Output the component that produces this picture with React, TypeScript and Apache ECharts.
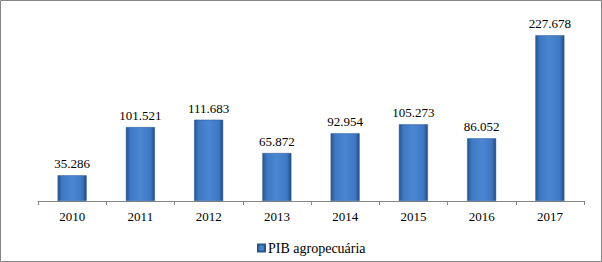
import React, { useEffect, useRef } from "react";
import * as echarts from "echarts";

const categories = ["2010", "2011", "2012", "2013", "2014", "2015", "2016", "2017"];
const values = [35.286, 101.521, 111.683, 65.872, 92.954, 105.273, 86.052, 227.678];
const labels = ["35.286", "101.521", "111.683", "65.872", "92.954", "105.273", "86.052", "227.678"];
const seriesName = "PIB agropecuária";
const FONT = "'Liberation Serif', 'Times New Roman', serif";

export default function App() {
  const ref = useRef<HTMLDivElement>(null);
  useEffect(() => {
    document.body.style.margin = "0";
    const chart = echarts.init(ref.current!, null, { renderer: "svg" });
    const barColor = new echarts.graphic.LinearGradient(0, 0, 1, 0, [
      { offset: 0, color: "#27548f" },
      { offset: 0.15, color: "#3f78c2" },
      { offset: 0.5, color: "#4a86d2" },
      { offset: 0.85, color: "#3f78c2" },
      { offset: 1, color: "#234c84" },
    ]);
    chart.setOption({
      animation: false,
      graphic: [
        {
          type: "rect",
          shape: { x: 0.5, y: 0.5, width: 601, height: 261 },
          style: { fill: "none", stroke: "#868686", lineWidth: 1 },
          silent: true,
        },
      ],
      grid: { left: 38, right: 18, top: 19, bottom: 61, containLabel: false },
      legend: {
        data: [seriesName],
        bottom: 2,
        left: 252,
        icon: "rect",
        itemWidth: 7,
        itemHeight: 7,
        itemGap: 4,
        textStyle: { fontFamily: FONT, fontSize: 14, color: "#000", padding: [0, 0, 0, -2] },
      },
      xAxis: {
        type: "category",
        data: categories,
        axisLine: { lineStyle: { color: "#868686", width: 1 } },
        axisTick: { show: true, length: 4, lineStyle: { color: "#868686" } },
        axisLabel: { fontFamily: FONT, fontSize: 13, color: "#000", margin: 9 },
      },
      yAxis: {
        type: "value",
        min: 0,
        max: 250,
        show: false,
        splitLine: { show: false },
      },
      series: [
        {
          name: seriesName,
          type: "bar",
          data: values,
          barWidth: 29,
          itemStyle: { color: barColor, borderColor: "#2a5690", borderWidth: 0.5 },
          label: {
            show: true,
            position: "top",
            distance: 5,
            formatter: (p: any) => labels[p.dataIndex],
            fontFamily: FONT,
            fontSize: 13,
            color: "#000",
          },
        },
      ],
    });
    return () => chart.dispose();
  }, []);
  return <div ref={ref} style={{ width: 602, height: 262 }} />;
}
